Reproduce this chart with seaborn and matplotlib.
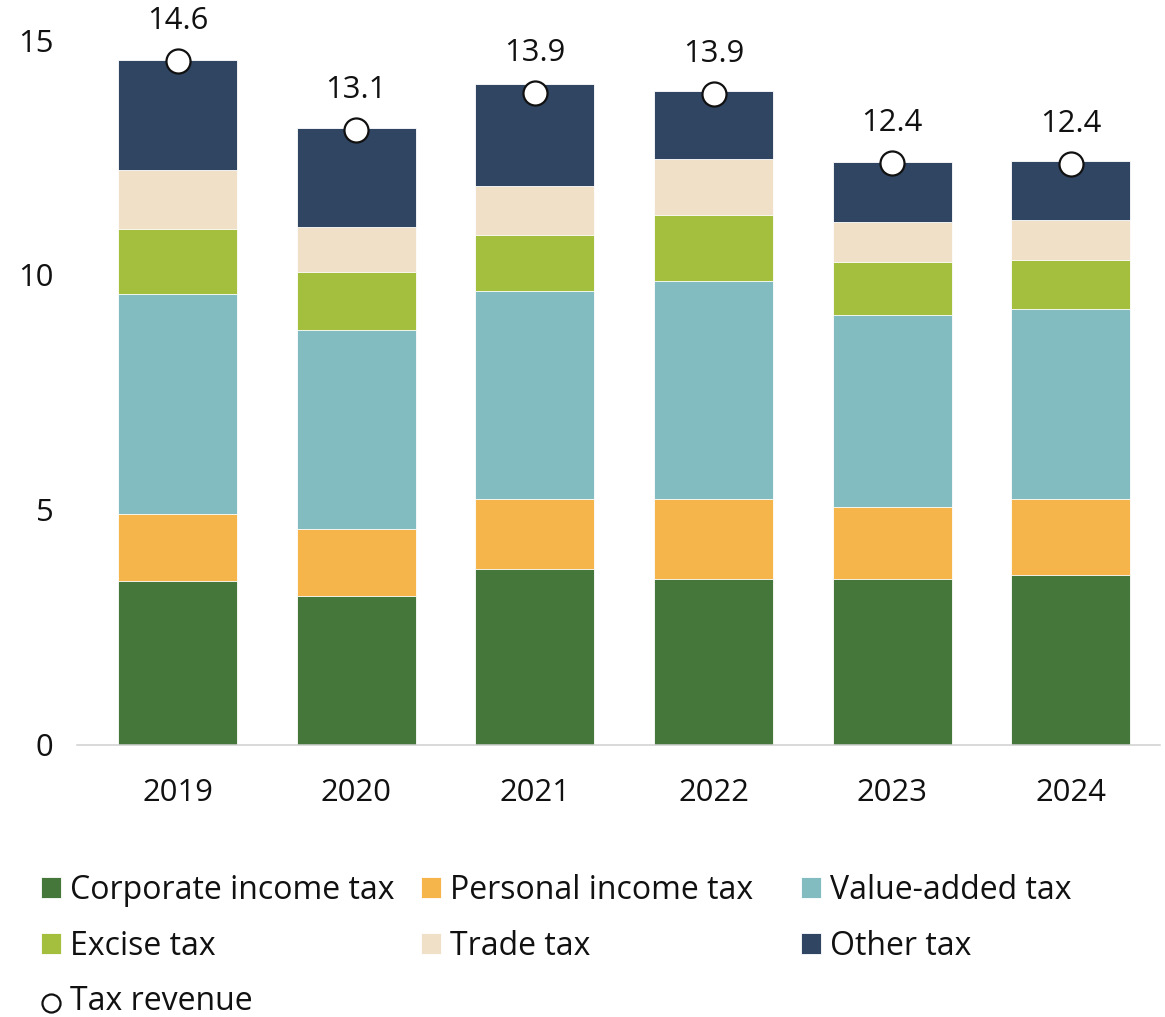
import numpy as np
import pandas as pd
import matplotlib
matplotlib.use("Agg")
import matplotlib.pyplot as plt
import seaborn as sns

# ---- data ----
years = ["2019", "2020", "2021", "2022", "2023", "2024"]
corporate = [3.49, 3.17, 3.73, 3.52, 3.52, 3.62]
personal = [1.42, 1.43, 1.49, 1.70, 1.53, 1.60]
vat = [4.69, 4.22, 4.43, 4.65, 4.10, 4.05]
excise = [1.37, 1.24, 1.20, 1.41, 1.13, 1.04]
trade = [1.26, 0.97, 1.05, 1.19, 0.84, 0.85]
other = [2.35, 2.10, 2.16, 1.45, 1.28, 1.26]
revenue = [14.56, 13.08, 13.87, 13.86, 12.38, 12.37]

series_names = ["Corporate income tax", "Personal income tax", "Value-added tax",
                "Excise tax", "Trade tax", "Other tax"]
series_vals = [corporate, personal, vat, excise, trade, other]
colors = ["#46773A", "#F5B54A", "#82BBC0", "#A3BF3D", "#F0E0C8", "#2F4562"]
y_ticks = [0, 5, 10, 15]

sns.set_style("white")
plt.rcParams["font.family"] = ["Open Sans", "DejaVu Sans"]
TXT = "#111111"
FS = 22.3
LFS = 23

fig = plt.figure(figsize=(11.65, 10.17), dpi=100)
ax = fig.add_axes([0.0661, 0.2679, 0.9296, 0.6927])

cum = np.cumsum(np.array(series_vals), axis=0)
df = pd.DataFrame({"year": years})
# draw tallest (cumulative) first so lower segments overlay
for i in range(len(series_names) - 1, -1, -1):
    sns.barplot(x=df["year"], y=cum[i], color=colors[i], saturation=1,
                width=0.666, edgecolor="white", linewidth=0.6,
                label=series_names[i], ax=ax, zorder=2)

sns.scatterplot(x=np.arange(len(years)), y=revenue, s=300, color="white",
                edgecolor="#111111", linewidth=1.6, zorder=5, ax=ax,
                label="Tax revenue", legend=False)

for i, v in enumerate(revenue):
    ax.annotate(f"{v:.1f}", xy=(i, v), xytext=(0, 23), textcoords="offset points",
                ha="center", va="baseline", fontsize=FS, color=TXT)

ax.set_xlim(-0.5624, 5.4982)
ax.set_ylim(0, 15)
ax.set_yticks(y_ticks)
ax.set_xticks(range(len(years)), years)
ax.set_xlabel("")
ax.set_ylabel("")
for s in ["top", "right", "left"]:
    ax.spines[s].set_visible(False)
ax.spines["bottom"].set_color("#D0D0D0")
ax.spines["bottom"].set_linewidth(1.1)
ax.spines["bottom"].set_zorder(6)
ax.tick_params(axis="y", length=0, pad=17, labelsize=FS, labelcolor=TXT)
ax.tick_params(axis="x", length=0, pad=24, labelsize=FS, labelcolor=TXT)
ax.grid(False)
if ax.get_legend() is not None:
    ax.get_legend().remove()

handles, labels = ax.get_legend_handles_labels()
hmap = dict(zip(labels, handles))

cols = [["Corporate income tax", "Excise tax", "Tax revenue"],
        ["Personal income tax", "Trade tax"],
        ["Value-added tax", "Other tax"]]
xs = [41 / 1165, 421 / 1165, 801 / 1165]
for names, x in zip(cols, xs):
    fig.legend([hmap[n] for n in names], names, loc="upper left",
               bbox_to_anchor=(x, 1 - 874 / 1017), frameon=False,
               fontsize=LFS, labelcolor=TXT, borderpad=0, borderaxespad=0,
               handlelength=0.625, handleheight=0.625, handletextpad=0.28,
               labelspacing=0.71, markerscale=0.75)

fig.savefig("out.png", dpi=100)
